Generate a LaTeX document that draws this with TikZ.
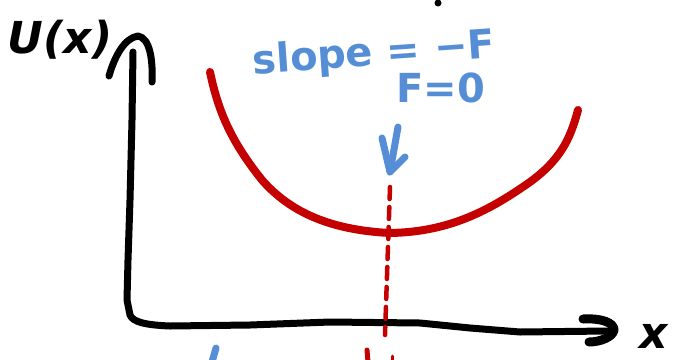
\documentclass[tikz,border=0pt]{standalone}
\usepackage{fontspec}
\setmainfont{DejaVu Sans}
\definecolor{sketchblue}{RGB}{86,142,214}
\definecolor{sketchred}{RGB}{196,0,0}
\tikzset{
  axisline/.style={line width=7pt,black,line cap=round,line join=round},
  curveline/.style={line width=8pt,sketchred,line cap=round,line join=round},
  bluestroke/.style={line width=7pt,sketchblue,line cap=round,line join=round},
  bluetext/.style={text=sketchblue,inner sep=0pt,font=\fontsize{40}{40}\selectfont\bfseries},
  blacktext/.style={text=black,inner sep=0pt,font=\fontsize{44}{44}\selectfont\itshape\bfseries}
}
\begin{document}
\begin{tikzpicture}[x=1pt,y=-1pt]
\useasboundingbox (0,0) rectangle (679,359);
\begin{scope}
\clip (0,0) rectangle (679,359);
% labels
\node[blacktext] (ulabel) at (60,40) {U(x)};
\node[blacktext] (xlabel) at (654,336) {x};
\node[bluetext,rotate=4] (slope) at (374,55) {slope = −F};
\node[bluetext] (fzero) at (441,88) {F=0};
% axes
\draw[axisline] (133,52) -- (132,120) -- (130,200) -- (128,260) -- (127,300) -- (130,315) .. controls (133,322) and (145,325) .. (170,326) -- (250,325) -- (330,322) -- (420,323) -- (470,328) -- (520,332) -- (608,331);
\draw[axisline] (109,76) .. controls (115,55) and (125,38) .. (138,36) .. controls (150,38) and (153,60) .. (152,82);
\draw[axisline,line width=9pt] (583,319) .. controls (600,318) and (614,322) .. (614,330) .. controls (613,337) and (600,342) .. (589,342);
% potential curve
\coordinate (minpt) at (390,233);
\draw[curveline] (210,72) .. controls (218,110) and (230,140) .. (262,180) .. controls (290,212) and (330,230) .. (minpt) .. controls (450,232) and (490,210) .. (530,182) .. controls (560,160) and (570,140) .. (578,110);
% dashed vertical
\coordinate (dtop) at (390,187);
\coordinate (dbot) at (385,335);
\draw[sketchred,line width=4.5pt,dash pattern=on 12pt off 8pt,line cap=round] (dtop) -- (dbot);
\draw[sketchred,line width=5pt,line cap=round] (367,350) -- (368,362);
\draw[sketchred,line width=3pt,line cap=round] (392,356) -- (392,362);
% blue arrow
\coordinate (atop) at (398,127);
\coordinate (atip) at (390,172);
\draw[bluestroke] (atop) -- (atip);
\draw[bluestroke] (382,138) -- (atip) -- (405,157);
% fragments at edges
\draw[bluestroke] (216,348) -- (212,362);
\fill[black] (438,3) circle (3.5pt);
\end{scope}
\end{tikzpicture}
\end{document}
